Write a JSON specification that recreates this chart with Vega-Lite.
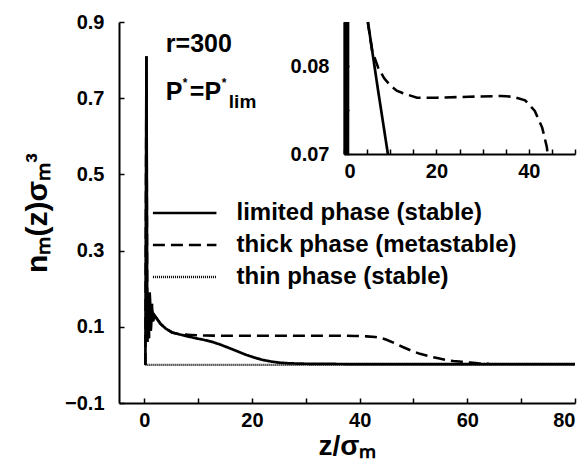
{
  "$schema": "https://vega.github.io/schema/vega-lite/v6.json",
  "width": 456,
  "height": 381,
  "autosize": {"type": "none"},
  "padding": {"left": 119, "top": 22, "right": 11, "bottom": 61},
  "config": {
    "view": {"stroke": null},
    "font": "Liberation Sans",
    "axis": {
      "grid": false,
      "domainColor": "black",
      "domainWidth": 2,
      "tickColor": "black",
      "tickWidth": 1.5,
      "tickSize": -5,
      "labelFont": "Liberation Sans",
      "labelFontSize": 20,
      "labelFontWeight": "bold",
      "labelColor": "black",
      "titleFont": "Liberation Sans",
      "titleFontSize": 28,
      "titleFontWeight": "bold",
      "titleColor": "black"
    }
  },
  "datasets": {
    "main": [
      {"phase": "limited", "z": 0.2, "v": 0},
      {"phase": "limited", "z": 0.4, "v": 0.81},
      {"phase": "limited", "z": 0.55, "v": 0.06},
      {"phase": "limited", "z": 0.7, "v": 0.17},
      {"phase": "limited", "z": 0.85, "v": 0.07},
      {"phase": "limited", "z": 1.0, "v": 0.19},
      {"phase": "limited", "z": 1.2, "v": 0.09},
      {"phase": "limited", "z": 1.4, "v": 0.16},
      {"phase": "limited", "z": 1.6, "v": 0.115},
      {"phase": "limited", "z": 1.9, "v": 0.13},
      {"phase": "limited", "z": 2.3, "v": 0.122},
      {"phase": "limited", "z": 3, "v": 0.108},
      {"phase": "limited", "z": 4, "v": 0.095},
      {"phase": "limited", "z": 5.2, "v": 0.0848},
      {"phase": "limited", "z": 7.3, "v": 0.0775},
      {"phase": "limited", "z": 9.5, "v": 0.07},
      {"phase": "limited", "z": 11, "v": 0.066},
      {"phase": "limited", "z": 12.7, "v": 0.06},
      {"phase": "limited", "z": 14.2, "v": 0.053},
      {"phase": "limited", "z": 15.8, "v": 0.044},
      {"phase": "limited", "z": 17.4, "v": 0.035},
      {"phase": "limited", "z": 19, "v": 0.026},
      {"phase": "limited", "z": 20.5, "v": 0.019},
      {"phase": "limited", "z": 22, "v": 0.013},
      {"phase": "limited", "z": 23.5, "v": 0.009},
      {"phase": "limited", "z": 25, "v": 0.006},
      {"phase": "limited", "z": 27, "v": 0.004},
      {"phase": "limited", "z": 30, "v": 0.003},
      {"phase": "limited", "z": 40, "v": 0.002},
      {"phase": "limited", "z": 80, "v": 0.002},
      {"phase": "thick", "z": 0.2, "v": 0},
      {"phase": "thick", "z": 0.4, "v": 0.81},
      {"phase": "thick", "z": 0.55, "v": 0.06},
      {"phase": "thick", "z": 0.7, "v": 0.17},
      {"phase": "thick", "z": 0.85, "v": 0.07},
      {"phase": "thick", "z": 1.0, "v": 0.19},
      {"phase": "thick", "z": 1.2, "v": 0.09},
      {"phase": "thick", "z": 1.4, "v": 0.16},
      {"phase": "thick", "z": 1.6, "v": 0.115},
      {"phase": "thick", "z": 1.9, "v": 0.13},
      {"phase": "thick", "z": 2.3, "v": 0.122},
      {"phase": "thick", "z": 3, "v": 0.108},
      {"phase": "thick", "z": 4, "v": 0.095},
      {"phase": "thick", "z": 5.2, "v": 0.0848},
      {"phase": "thick", "z": 6.1, "v": 0.0817},
      {"phase": "thick", "z": 7.4, "v": 0.0798},
      {"phase": "thick", "z": 8.7, "v": 0.0786},
      {"phase": "thick", "z": 10, "v": 0.0778},
      {"phase": "thick", "z": 11.4, "v": 0.0772},
      {"phase": "thick", "z": 12.8, "v": 0.0769},
      {"phase": "thick", "z": 15.8, "v": 0.0764},
      {"phase": "thick", "z": 20, "v": 0.0764},
      {"phase": "thick", "z": 27, "v": 0.0765},
      {"phase": "thick", "z": 34, "v": 0.0766},
      {"phase": "thick", "z": 36.6, "v": 0.0765},
      {"phase": "thick", "z": 39.2, "v": 0.0761},
      {"phase": "thick", "z": 41.3, "v": 0.0749},
      {"phase": "thick", "z": 42.9, "v": 0.073},
      {"phase": "thick", "z": 43.9, "v": 0.0708},
      {"phase": "thick", "z": 45, "v": 0.066},
      {"phase": "thick", "z": 46.5, "v": 0.057},
      {"phase": "thick", "z": 48, "v": 0.047},
      {"phase": "thick", "z": 49.5, "v": 0.038},
      {"phase": "thick", "z": 51.2, "v": 0.029},
      {"phase": "thick", "z": 52.8, "v": 0.023},
      {"phase": "thick", "z": 54.4, "v": 0.018},
      {"phase": "thick", "z": 56, "v": 0.013},
      {"phase": "thick", "z": 57.4, "v": 0.01},
      {"phase": "thick", "z": 59, "v": 0.008},
      {"phase": "thick", "z": 60.5, "v": 0.006},
      {"phase": "thick", "z": 62, "v": 0.004},
      {"phase": "thick", "z": 64, "v": 0.003},
      {"phase": "thin", "z": 0.2, "v": 0},
      {"phase": "thin", "z": 80, "v": 0}
    ],
    "inset": [
      {"phase": "limited", "piece": "a", "z": 0.217, "v": 0.07},
      {"phase": "limited", "piece": "a", "z": 0.221, "v": 0.085},
      {"phase": "limited", "piece": "b", "z": 0.545, "v": 0.085},
      {"phase": "limited", "piece": "b", "z": 0.548, "v": 0.07},
      {"phase": "limited", "piece": "c", "z": 0.564, "v": 0.07},
      {"phase": "limited", "piece": "c", "z": 0.584, "v": 0.085},
      {"phase": "limited", "piece": "d", "z": 0.8275, "v": 0.085},
      {"phase": "limited", "piece": "d", "z": 0.85, "v": 0.07},
      {"phase": "limited", "piece": "d", "z": 0.869, "v": 0.085},
      {"phase": "limited", "piece": "e", "z": 5.18, "v": 0.085},
      {"phase": "limited", "piece": "e", "z": 7.3, "v": 0.0775},
      {"phase": "limited", "piece": "e", "z": 9.5, "v": 0.07},
      {"phase": "thick", "piece": "f", "z": 5.18, "v": 0.085},
      {"phase": "thick", "piece": "f", "z": 5.2, "v": 0.0848},
      {"phase": "thick", "piece": "f", "z": 6.1, "v": 0.0817},
      {"phase": "thick", "piece": "f", "z": 7.4, "v": 0.0798},
      {"phase": "thick", "piece": "f", "z": 8.7, "v": 0.0786},
      {"phase": "thick", "piece": "f", "z": 10, "v": 0.0778},
      {"phase": "thick", "piece": "f", "z": 11.4, "v": 0.0772},
      {"phase": "thick", "piece": "f", "z": 12.8, "v": 0.0769},
      {"phase": "thick", "piece": "f", "z": 15.8, "v": 0.0764},
      {"phase": "thick", "piece": "f", "z": 20, "v": 0.0764},
      {"phase": "thick", "piece": "f", "z": 27, "v": 0.0765},
      {"phase": "thick", "piece": "f", "z": 34, "v": 0.0766},
      {"phase": "thick", "piece": "f", "z": 36.6, "v": 0.0765},
      {"phase": "thick", "piece": "f", "z": 39.2, "v": 0.0761},
      {"phase": "thick", "piece": "f", "z": 41.3, "v": 0.0749},
      {"phase": "thick", "piece": "f", "z": 42.9, "v": 0.073},
      {"phase": "thick", "piece": "f", "z": 43.9, "v": 0.0708},
      {"phase": "thick", "piece": "f", "z": 44.08, "v": 0.07}
    ],
    "legend": [
      {"phase": "limited", "label": "limited phase (stable)", "z1": 1.6, "z2": 13.4, "zt": 17.13, "v": 0.3987},
      {"phase": "thick", "label": "thick phase (metastable)", "z1": 1.6, "z2": 13.4, "zt": 17.13, "v": 0.3147},
      {"phase": "thin", "label": "thin phase (stable)", "z1": 1.6, "z2": 13.4, "zt": 17.13, "v": 0.2307}
    ],
    "annot": [
      {"z": 4.0, "v": 0.8213, "r": "r=300", "p": 0.6953}
    ]
  },
  "layer": [
    {
      "layer": [
        {
          "data": {"name": "main"},
          "mark": {"type": "line", "color": "black", "strokeCap": "butt", "strokeJoin": "miter"},
          "encoding": {
            "x": {
              "field": "z", "type": "quantitative",
              "scale": {"domain": [-4.7, 80], "nice": false, "zero": false},
              "axis": {
                "orient": "bottom",
                "values": [0, 5, 10, 15, 20, 25, 30, 35, 40, 45, 50, 55, 60, 65, 70, 75, 80],
                "labelExpr": "datum.value % 20 == 0 ? datum.label : ''",
                "labelPadding": 12,
                "title": "z/σₘ",
                "titlePadding": 2
              }
            },
            "y": {
              "field": "v", "type": "quantitative",
              "scale": {"domain": [-0.1, 0.9], "nice": false, "zero": false},
              "axis": {
                "orient": "left",
                "values": [-0.1, 0, 0.1, 0.2, 0.3, 0.4, 0.5, 0.6, 0.7, 0.8, 0.9],
                "labelExpr": "abs(round(datum.value*10)) % 2 == 1 ? format(datum.value, '.1f') : ''",
                "labelPadding": 20,
                "title": "nₘ(z)σₘ³",
                "titleFontSize": 30,
                "titlePadding": 12
              }
            },
            "detail": {"field": "phase"},
            "strokeDash": {"field": "phase", "type": "nominal", "scale": {"domain": ["limited", "thick", "thin"], "range": [[1, 0], [12, 6], [1, 1]]}, "legend": null},
            "strokeWidth": {"field": "phase", "type": "nominal", "scale": {"domain": ["limited", "thick", "thin"], "range": [2.7, 2.4, 1]}, "legend": null}
          }
        },
        {
          "data": {"name": "legend"},
          "mark": {"type": "rule", "color": "black", "strokeCap": "butt"},
          "encoding": {
            "x": {"field": "z1", "type": "quantitative"},
            "x2": {"field": "z2"},
            "y": {"field": "v", "type": "quantitative"},
            "strokeDash": {"field": "phase", "type": "nominal", "legend": null},
            "strokeWidth": {"field": "phase", "type": "nominal", "legend": null}
          }
        },
        {
          "data": {"name": "legend"},
          "mark": {"type": "text", "align": "left", "baseline": "middle", "font": "Liberation Sans", "fontSize": 24, "fontWeight": "bold", "color": "black"},
          "encoding": {
            "x": {"field": "zt", "type": "quantitative"},
            "y": {"field": "v", "type": "quantitative"},
            "text": {"field": "label"}
          }
        },
        {
          "data": {"name": "annot"},
          "mark": {"type": "text", "align": "left", "baseline": "alphabetic", "font": "Liberation Sans", "fontSize": 25, "fontWeight": "bold", "color": "black"},
          "encoding": {
            "x": {"field": "z", "type": "quantitative"},
            "y": {"field": "v", "type": "quantitative"},
            "text": {"field": "r"}
          }
        },
        {
          "data": {"name": "annot"},
          "mark": {"type": "text", "align": "left", "baseline": "alphabetic", "font": "Liberation Sans", "fontSize": 25, "fontWeight": "bold", "color": "black"},
          "encoding": {
            "x": {"field": "z", "type": "quantitative"},
            "y": {"field": "p", "type": "quantitative"},
            "text": {"value": "P"}
          }
        },
        {
          "data": {"name": "annot"},
          "mark": {"type": "text", "align": "left", "baseline": "alphabetic", "font": "Liberation Sans", "fontSize": 12, "fontWeight": "bold", "color": "black", "dx": 17, "dy": -13},
          "encoding": {
            "x": {"field": "z", "type": "quantitative"},
            "y": {"field": "p", "type": "quantitative"},
            "text": {"value": "*"}
          }
        },
        {
          "data": {"name": "annot"},
          "mark": {"type": "text", "align": "left", "baseline": "alphabetic", "font": "Liberation Sans", "fontSize": 25, "fontWeight": "bold", "color": "black", "dx": 24},
          "encoding": {
            "x": {"field": "z", "type": "quantitative"},
            "y": {"field": "p", "type": "quantitative"},
            "text": {"value": "=P"}
          }
        },
        {
          "data": {"name": "annot"},
          "mark": {"type": "text", "align": "left", "baseline": "alphabetic", "font": "Liberation Sans", "fontSize": 12, "fontWeight": "bold", "color": "black", "dx": 56, "dy": -13},
          "encoding": {
            "x": {"field": "z", "type": "quantitative"},
            "y": {"field": "p", "type": "quantitative"},
            "text": {"value": "*"}
          }
        },
        {
          "data": {"name": "annot"},
          "mark": {"type": "text", "align": "left", "baseline": "alphabetic", "font": "Liberation Sans", "fontSize": 19, "fontWeight": "bold", "color": "black", "dx": 63, "dy": 8},
          "encoding": {
            "x": {"field": "z", "type": "quantitative"},
            "y": {"field": "p", "type": "quantitative"},
            "text": {"value": "lim"}
          }
        }
      ]
    },
    {
      "data": {"name": "inset"},
      "mark": {"type": "line", "color": "black", "strokeCap": "butt"},
      "encoding": {
        "x": {
          "field": "z", "type": "quantitative",
          "scale": {"domain": [0, 50], "range": [225, 456], "nice": false, "zero": false},
          "axis": {
            "orient": "bottom",
            "offset": -249,
            "values": [0, 5, 10, 15, 20, 25, 30, 35, 40, 45, 50],
            "labelExpr": "datum.value % 20 == 0 ? datum.label : ''",
            "labelPadding": 12,
            "title": null
          }
        },
        "y": {
          "field": "v", "type": "quantitative",
          "scale": {"domain": [0.07, 0.085], "range": [132, 0], "nice": false, "zero": false},
          "axis": {
            "orient": "left",
            "offset": -225,
            "values": [0.07, 0.075, 0.08],
            "labelExpr": "abs(round(datum.value*1000)) % 10 == 0 ? format(datum.value, '.2f') : ''",
            "labelPadding": 20,
            "title": null
          }
        },
        "detail": {"field": "piece"},
        "strokeDash": {"field": "phase", "type": "nominal", "legend": null},
        "strokeWidth": {"field": "phase", "type": "nominal", "legend": null}
      }
    }
  ],
  "resolve": {"scale": {"x": "independent", "y": "independent", "strokeDash": "shared", "strokeWidth": "shared"}}
}
